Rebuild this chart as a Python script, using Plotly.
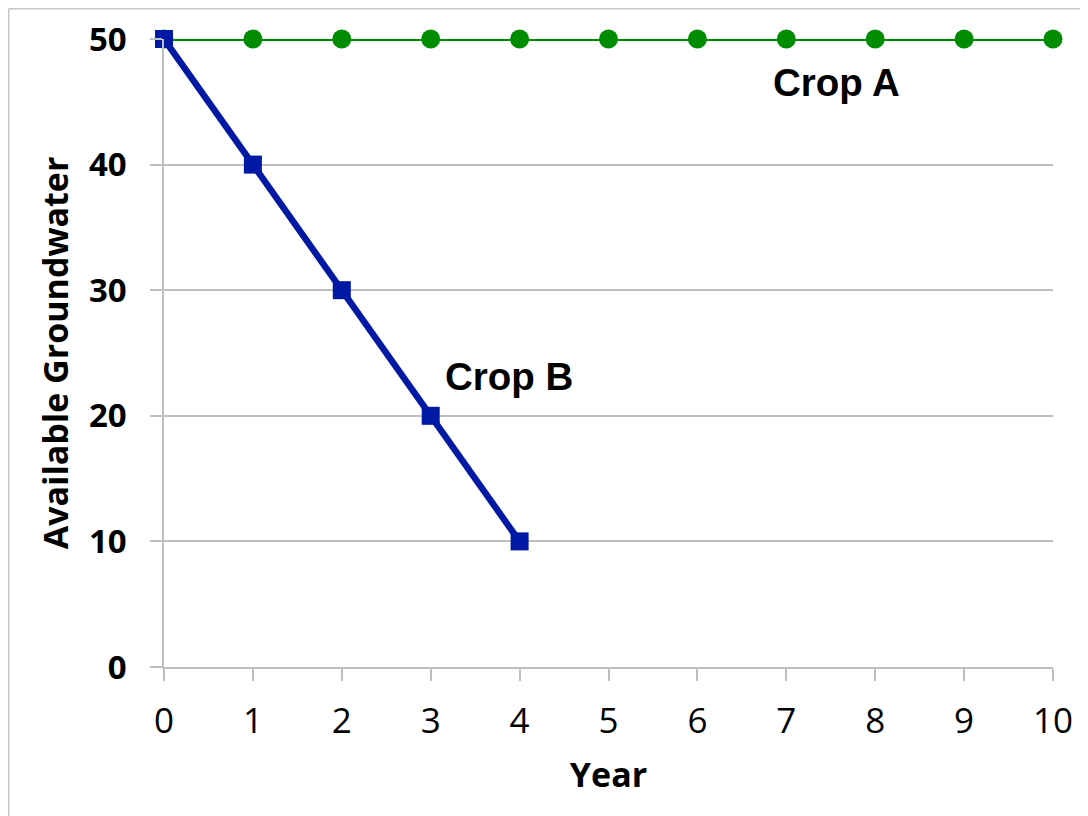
import plotly.graph_objects as go

years_a = [0, 1, 2, 3, 4, 5, 6, 7, 8, 9, 10]
crop_a = [50, 50, 50, 50, 50, 50, 50, 50, 50, 50, 50]
years_b = [0, 1, 2, 3, 4]
crop_b = [50, 40, 30, 20, 10]
x_ticks = [0, 1, 2, 3, 4, 5, 6, 7, 8, 9, 10]
y_ticks = [0, 10, 20, 30, 40, 50]

GREEN = "#008C00"
BLUE = "#0019A5"
GRID = "#BFBFBF"

fig = go.Figure()
fig.add_trace(go.Scatter(x=years_a, y=crop_a, mode="lines+markers", name="Crop A",
                         line=dict(color=GREEN, width=4),
                         marker=dict(symbol="circle", size=19, color=GREEN),
                         cliponaxis=False))
fig.add_trace(go.Scatter(x=years_b, y=crop_b, mode="lines+markers", name="Crop B",
                         line=dict(color=BLUE, width=6.5),
                         marker=dict(symbol="square", size=18, color=BLUE),
                         cliponaxis=False))

fig.add_annotation(x=7.56, y=46.5, text="<b>Crop A</b>", showarrow=False,
                   font=dict(family="Liberation Sans, Arial", size=38.5, color="black"))
fig.add_annotation(x=3.876, y=23.1, text="<b>Crop B</b>", showarrow=False,
                   font=dict(family="Liberation Sans, Arial", size=38.5, color="black"))

# page has an 8px body margin; figure sized to fit the window
OFF = 8
FW, FH = 1088 - OFF, 816 - OFF
L, R, T, B = 164, 1053, 39, 667   # screen coords of plot area
W, H = R - L, B - T
def px(v):
    return (v - L) / W
def py(v):
    return (B - v) / H
fig.add_shape(type="line", xref="paper", yref="paper", x0=px(8.75), x1=px(1100), y0=py(8.75), y1=py(8.75),
              line=dict(color="#C8C8C8", width=1.5))
fig.add_shape(type="line", xref="paper", yref="paper", x0=px(8.75), x1=px(8.75), y0=py(8.75), y1=py(830),
              line=dict(color="#C8C8C8", width=1.5))

fig.update_layout(
    width=FW, height=FH,
    margin=dict(l=L - OFF, r=OFF + FW - R, t=T - OFF, b=OFF + FH - B, autoexpand=False),
    paper_bgcolor="white", plot_bgcolor="white",
    showlegend=False,
    font=dict(family="Open Sans", color="black"),
    xaxis=dict(range=[0, 10], tickvals=x_ticks, ticktext=[str(v) for v in x_ticks],
               automargin=False,
               showgrid=False, zeroline=False, showline=True, linecolor=GRID, linewidth=1.5,
               ticks="outside", ticklen=12, tickcolor=GRID, tickwidth=1.5,
               ticklabelstandoff=10,
               tickfont=dict(family="Open Sans", size=35, color="black"),
               title=dict(text="<b>Year</b>", font=dict(family="Open Sans", size=34, color="black"), standoff=21)),
    yaxis=dict(range=[0, 50], tickvals=y_ticks, ticktext=["<b>%d</b>" % v for v in y_ticks],
               automargin=False,
               showgrid=True, gridcolor=GRID, gridwidth=1.5, zeroline=False,
               showline=True, linecolor=GRID, linewidth=1.5,
               ticks="outside", ticklen=12, tickcolor=GRID, tickwidth=1.5,
               ticklabelstandoff=17,
               tickfont=dict(family="Open Sans", size=33, color="black"),
               title=dict(text="<b>Available Groundwater</b>", font=dict(family="Open Sans", size=34, color="black"), standoff=10)),
)

fig.write_html("out.html")
